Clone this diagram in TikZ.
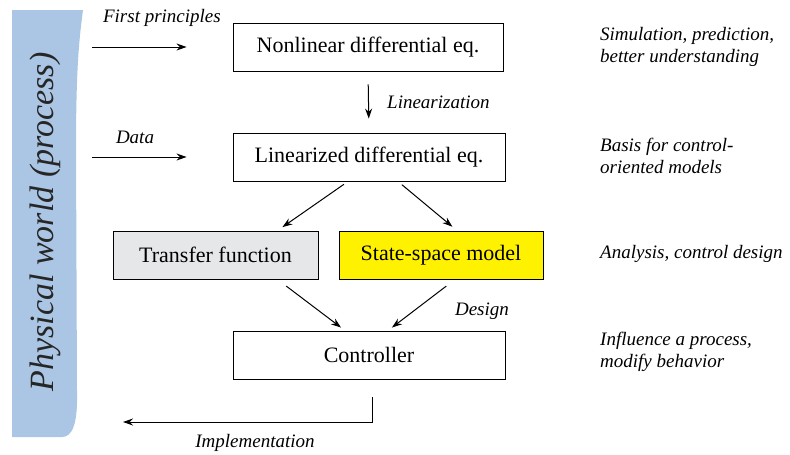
\documentclass[tikz,border=0pt]{standalone}
\usepackage{fontspec}
\setmainfont{Liberation Serif}
\newfontfamily\timesfont{Liberation Serif}
\usetikzlibrary{arrows.meta}

\definecolor{worldblue}{RGB}{171,198,228}
\definecolor{tfgray}{RGB}{230,231,233}
\definecolor{ssyellow}{RGB}{255,242,0}

\begin{document}
\begin{tikzpicture}[x=1pt,y=-1pt,
  block/.style={draw,line width=0.9pt,minimum height=48pt,inner sep=0pt,
    font=\timesfont\fontsize{22}{25}\selectfont},
  note/.style={font=\timesfont\fontsize{19}{22}\selectfont\itshape,align=left,inner sep=0pt},
  arr/.style={-{Stealth[length=10pt,width=7pt]},line width=1pt}]
  \useasboundingbox (0,0) rectangle (790,455);
  % physical world banner
  \fill[worldblue] (12,10) -- (83,10) .. controls (79,40) and (76,70) .. (76,150)
    -- (77,390) .. controls (78,425) and (72,437) .. (62,437) -- (12,437) -- cycle;
  \node[rotate=90,font=\timesfont\fontsize{34}{37}\selectfont\itshape,text=black!85] (world) at (45,222) {Physical world (process)};
  % blocks
  \node[block,minimum width=270pt] (nonlin) at (368,47) {Nonlinear differential eq.};
  \node[block,minimum width=272pt] (lin) at (369,157) {Linearized differential eq.};
  \node[block,minimum width=205pt,fill=tfgray] (tf) at (215.5,255) {Transfer function};
  \node[block,minimum width=204pt,fill=ssyellow] (ss) at (441,255) {State-space model};
  \node[block,minimum width=272pt] (ctrl) at (369,355) {Controller};
  % inputs
  \coordinate (fp) at (92,47);
  \coordinate (dat) at (92,157);
  \coordinate (impl) at (123,422);
  \draw[arr] (fp) -- ([xshift=-46pt]nonlin.west);
  \draw[arr] (dat) -- ([xshift=-46pt]lin.west);
  \draw[arr,shorten <=13pt,shorten >=14pt] (nonlin.south) -- (lin.north);
  \draw[arr,shorten <=5pt,shorten >=6pt] ([xshift=-21pt]lin.south) -- ([xshift=62pt]tf.north);
  \draw[arr,shorten <=5pt,shorten >=6pt] ([xshift=29pt]lin.south) -- ([xshift=16pt]ss.north);
  \draw[arr,shorten <=11pt,shorten >=5pt] ([xshift=62pt]tf.south) -- ([xshift=-24pt]ctrl.north);
  \draw[arr,shorten <=11pt,shorten >=5pt] ([xshift=14pt]ss.south) -- ([xshift=19pt]ctrl.north);
  \draw[arr] ([xshift=3pt,yshift=-18pt]ctrl.south) |- (impl);
  % labels
  \node[note,anchor=east] (fplabel) at (221,18) {First principles};
  \node[note] (datlabel) at (135,137) {Data};
  \node[note,anchor=west] (linlabel) at (387,102) {Linearization};
  \node[note] (deslabel) at (482,311) {Design};
  \node[note] (impllabel) at (255,443) {Implementation};
  % right column
  \node[note,anchor=west] (sim) at (600,47) {Simulation, prediction,\\better understanding};
  \node[note,anchor=west] (basis) at (600,156) {Basis for control-\\oriented models};
  \node[note,anchor=west] (anal) at (600,254) {Analysis, control design};
  \node[note,anchor=west] (infl) at (600,352) {Influence a process,\\modify behavior};
\end{tikzpicture}
\end{document}
